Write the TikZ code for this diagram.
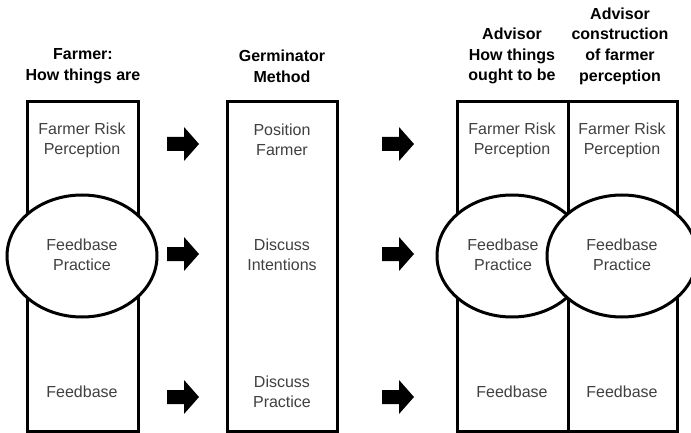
\documentclass[tikz,border=0pt]{standalone}
\usepackage{fontspec}
\setmainfont{Liberation Sans}
\usetikzlibrary{shapes.geometric}
\begin{document}
\begin{tikzpicture}[x=1pt,y=-1pt,
  colbox/.style={draw=black, line width=3pt, minimum height=329pt, inner sep=0pt},
  oval/.style={ellipse, draw=black, fill=white, line width=3pt, minimum width=150pt, minimum height=122pt, inner sep=0pt},
  lbl/.style={text=black!75, align=center, inner sep=0pt, font=\fontsize{16}{20}\selectfont},
  ttl/.style={text=black, align=center, inner sep=0pt, font=\bfseries\fontsize{16}{20.7}\selectfont},
  barrow/.pic={\fill[black] (0,-7) -- (17,-7) -- (17,-17) -- (32,0) -- (17,17) -- (17,7) -- (0,7) -- cycle;}
]
\useasboundingbox (0,0) rectangle (691,433);
\clip (0,0) rectangle (691,433);
\fill[white] (0,0) rectangle (691,433);

% column boxes
\node[colbox, minimum width=111pt] (c1) at (82.5,266.5) {};
\node[colbox, minimum width=110pt] (c2) at (282,266.5) {};
\node[colbox, minimum width=111pt] (c3) at (512.5,266.5) {};
\node[colbox, minimum width=109.5pt] (c4) at (622.75,266.5) {};

% ellipses
\node[oval] (e1) at (82,256) {};
\node[oval] (e3) at (512,256) {};
\node[oval] (e4) at (622,256) {};

% titles
\node[ttl] (t1) at (83,66) {Farmer:\\How things are};
\node[ttl] (t2) at (282,66) {Germinator\\Method};
\node[ttl] (t3) at (512,56) {Advisor\\How things\\ought to be};
\node[ttl] (t4) at (620,46) {Advisor\\construction\\of farmer\\perception};

% column 1 labels
\node[lbl] (a1) at (82,140) {Farmer Risk\\Perception};
\node[lbl] (a2) at (82,255) {Feedbase\\Practice};
\node[lbl] (a3) at (82,392) {Feedbase};

% column 2 labels
\node[lbl] (b1) at (282,140) {Position\\Farmer};
\node[lbl] (b2) at (282,255) {Discuss\\Intentions};
\node[lbl] (b3) at (282,392) {Discuss\\Practice};

% column 3 labels
\node[lbl] (d1) at (512,140) {Farmer Risk\\Perception};
\node[lbl] (d2) at (503,255) {Feedbase\\Practice};
\node[lbl] (d3) at (512,392) {Feedbase};

% column 4 labels
\node[lbl] (f1) at (622,140) {Farmer Risk\\Perception};
\node[lbl] (f2) at (622,255) {Feedbase\\Practice};
\node[lbl] (f3) at (622,392) {Feedbase};

% block arrows
\pic at (167,144) {barrow};
\pic at (167,254) {barrow};
\pic at (167,397) {barrow};
\pic at (382,144) {barrow};
\pic at (382,254) {barrow};
\pic at (382,397) {barrow};
\end{tikzpicture}
\end{document}
